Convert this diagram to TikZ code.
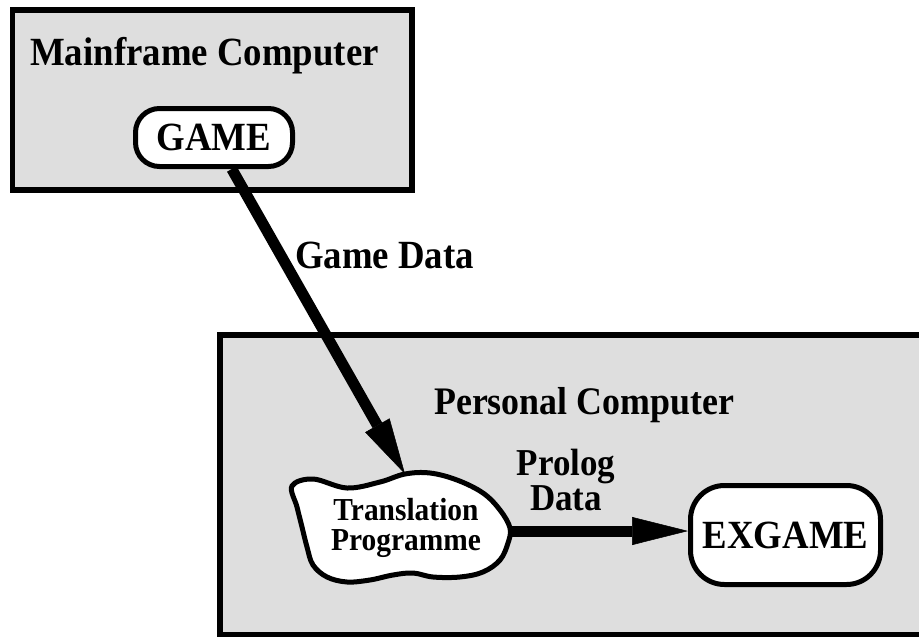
\documentclass[tikz,border=0pt]{standalone}
\usepackage{fontspec}
\setmainfont{Liberation Serif}[FakeStretch=0.92]
\usetikzlibrary{arrows.meta,calc}
\definecolor{panel}{gray}{0.87}
\begin{document}
\begin{tikzpicture}[x=1pt,y=-1pt,
  panelbox/.style={draw=black,line width=5.5pt,fill=panel},
  progbox/.style={draw=black,line width=5pt,fill=white,rounded corners=#1,inner sep=0pt},
  big/.style={font=\fontsize{40}{44}\selectfont\bfseries},
  flow/.style={line width=11pt,-{Triangle[length=56pt,width=28pt,line width=0.5pt]}},
]
\useasboundingbox (0,0) rectangle (919,637);
\clip (0,0) rectangle (919,637);
\fill[white] (0,0) rectangle (919,637);

% the two machines
\draw[panelbox] (12.5,10) rectangle (412,190);
\draw[panelbox] (220,335) rectangle (945,635);

\node[big,anchor=base west,inner sep=0pt] (mainlbl) at (30,65) {Mainframe Computer};
\node[font=\fontsize{39}{44}\selectfont\bfseries,anchor=base west,inner sep=0pt] (pclbl) at (434,414) {Personal Computer};

% programs
\node[progbox=24pt,minimum width=157pt,minimum height=58pt,big] (game) at (214,137.5) {GAME};
\node[progbox=34pt,minimum width=190pt,minimum height=99pt,big] (exgame) at (785.5,535) {EXGAME};

% translation programme outline
\draw[line width=5pt,fill=white] plot[smooth cycle,tension=0.6] coordinates {
  (292,486) (313,479) (347,488) (380,482) (405,474) (430,473) (457,480)
  (483,493) (500,510) (510,528) (508,543) (500,560) (483,572) (460,577)
  (433,577) (413,573) (393,575) (370,580) (347,582) (327,577) (313,565)
  (307,547) (302,527) (297,507)};
\node[font=\fontsize{32}{30}\selectfont\bfseries,align=center,inner sep=0pt] (tp) at (406,528) {Translation\\Programme};
\coordinate (tptop) at (405,474);
\coordinate (tpright) at (510,531);

% data flows
\draw[flow] (game) -- (tptop);
\draw[flow] (tpright) -- (tpright -| exgame.west);

\node[big,anchor=base west,inner sep=0pt] (gamedata) at (295,268) {Game Data};
\node[font=\fontsize{38}{35}\selectfont\bfseries,align=center,inner sep=0pt] (prolog) at (566,480) {Prolog\\Data};
\end{tikzpicture}
\end{document}
